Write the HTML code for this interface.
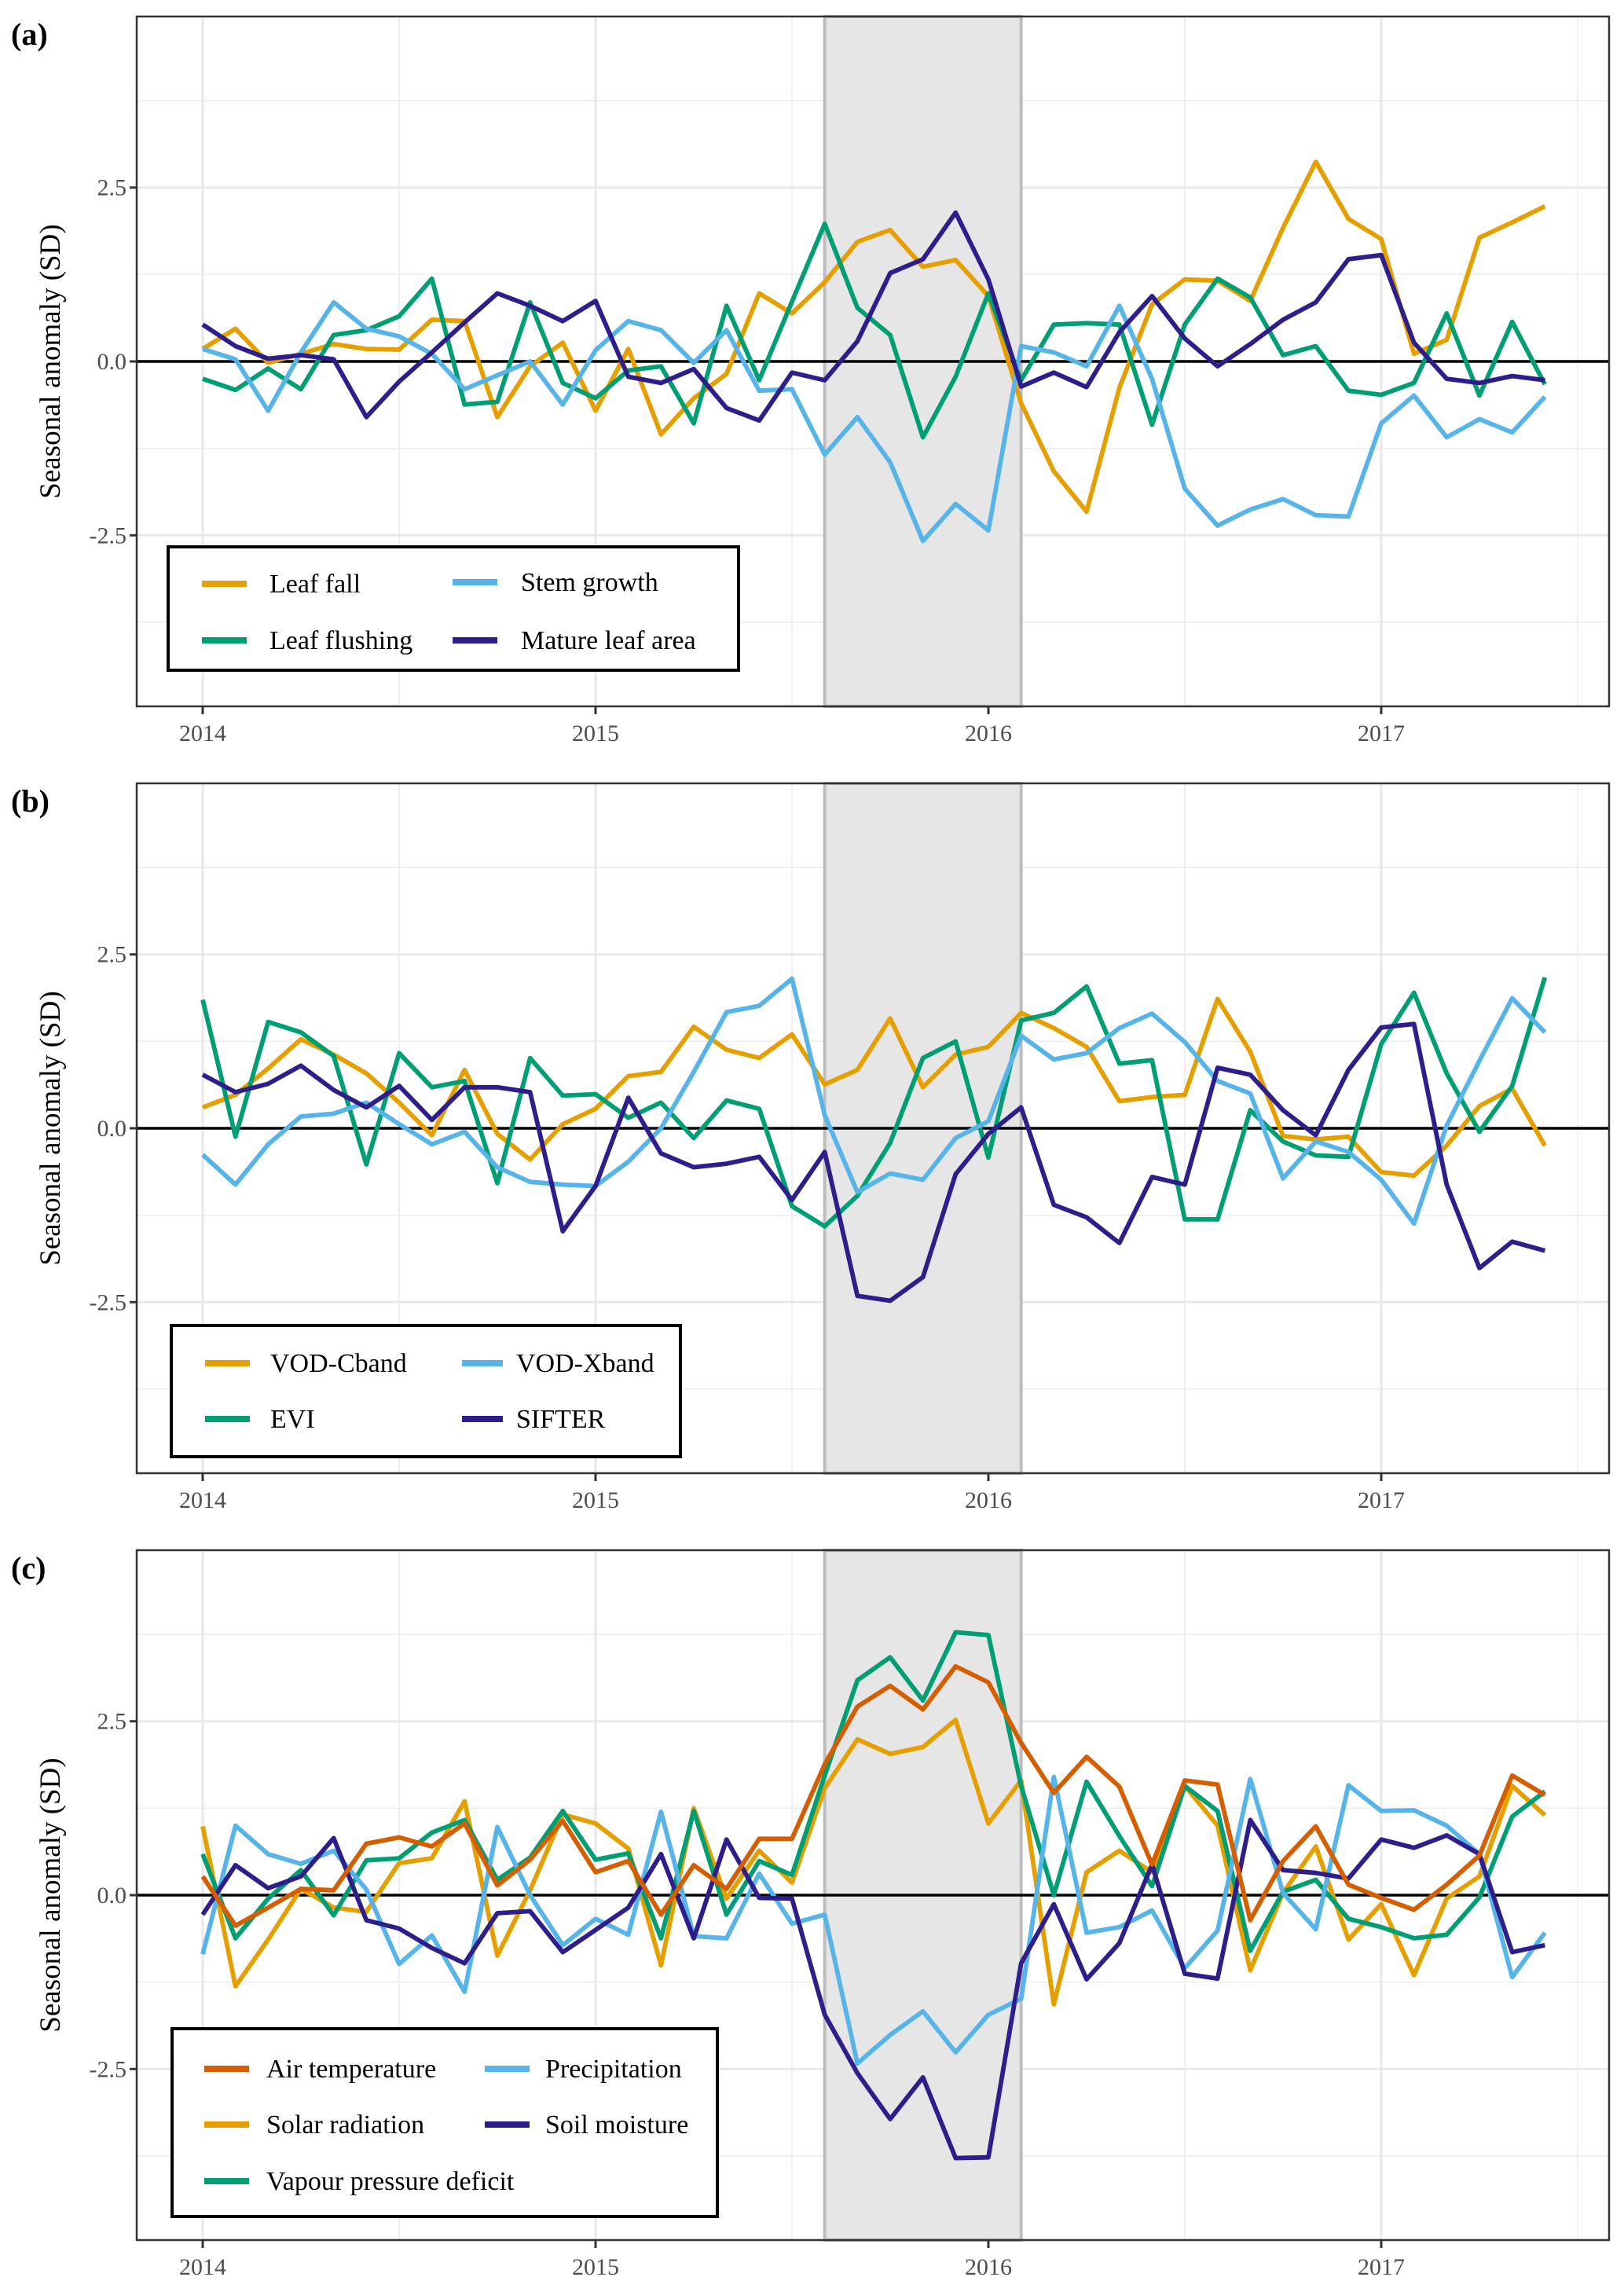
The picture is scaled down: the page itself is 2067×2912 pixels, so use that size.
<!DOCTYPE html>
<html><head><meta charset="utf-8">
<style>
html,body{margin:0;padding:0;background:#fff;}
svg{display:block;font-family:"Liberation Serif","DejaVu Serif",serif;}
</style></head>
<body>
<svg id="chart" width="2067" height="2912" viewBox="0 0 2067 2912" xmlns="http://www.w3.org/2000/svg"></svg>
<script>
// ---- data: monthly values Jan 2014 .. Jun 2017 (42 months) ----
const startYear = 2014;
const xTickLabels = ["2014","2015","2016","2017"];
const yTickLabels = ["-2.5","0.0","2.5"];
const yTickValues = [-2.5,0,2.5];

// Panel (a)
const aNames = ["Leaf fall","Stem growth","Leaf flushing","Mature leaf area"];
const leafFall = [0.18,0.47,-0.02,0.11,0.25,0.18,0.17,0.6,0.58,-0.8,-0.07,0.27,-0.71,0.18,-1.05,-0.53,-0.18,0.98,0.69,1.14,1.72,1.89,1.36,1.46,0.94,-0.6,-1.58,-2.16,-0.38,0.82,1.18,1.16,0.87,1.92,2.87,2.05,1.76,0.11,0.31,1.78,2.0,2.23];
const leafFlushing = [-0.25,-0.41,-0.1,-0.4,0.38,0.45,0.65,1.19,-0.62,-0.58,0.85,-0.31,-0.53,-0.13,-0.07,-0.89,0.8,-0.27,0.86,1.98,0.77,0.38,-1.09,-0.22,0.98,-0.27,0.53,0.55,0.53,-0.91,0.53,1.19,0.92,0.09,0.22,-0.42,-0.48,-0.31,0.69,-0.49,0.57,-0.33];
const stemGrowth = [0.18,0.03,-0.71,0.13,0.85,0.47,0.36,0.11,-0.4,-0.2,0,-0.62,0.16,0.58,0.45,-0.02,0.45,-0.42,-0.4,-1.34,-0.8,-1.45,-2.58,-2.05,-2.43,0.22,0.13,-0.07,0.8,-0.25,-1.83,-2.36,-2.13,-1.98,-2.21,-2.23,-0.89,-0.49,-1.09,-0.83,-1.02,-0.51];
const matureLeafArea = [0.53,0.22,0.04,0.09,0.03,-0.8,-0.29,0.13,0.56,0.98,0.8,0.58,0.87,-0.22,-0.31,-0.11,-0.67,-0.85,-0.16,-0.27,0.29,1.27,1.47,2.14,1.18,-0.36,-0.16,-0.37,0.42,0.94,0.33,-0.07,0.25,0.6,0.85,1.47,1.53,0.27,-0.25,-0.31,-0.21,-0.27];

// Panel (b)
const bNames = ["VOD-Cband","VOD-Xband","EVI","SIFTER"];
const vodC = [0.3,0.48,0.86,1.28,1.06,0.79,0.37,-0.1,0.84,-0.08,-0.45,0.06,0.28,0.75,0.81,1.46,1.13,1.01,1.35,0.63,0.84,1.58,0.59,1.06,1.17,1.66,1.44,1.17,0.39,0.45,0.48,1.86,1.1,-0.11,-0.16,-0.12,-0.63,-0.68,-0.25,0.32,0.57,-0.25];
const vodX = [-0.38,-0.81,-0.23,0.17,0.21,0.37,0.06,-0.23,-0.05,-0.56,-0.77,-0.81,-0.83,-0.48,0.0,0.81,1.67,1.76,2.15,0.19,-0.92,-0.65,-0.74,-0.14,0.1,1.33,0.99,1.08,1.44,1.65,1.24,0.68,0.5,-0.72,-0.19,-0.34,-0.74,-1.37,0.04,0.97,1.87,1.38];
const evi = [1.85,-0.12,1.53,1.38,1.04,-0.52,1.08,0.59,0.68,-0.79,1.01,0.47,0.49,0.15,0.37,-0.14,0.4,0.28,-1.12,-1.41,-0.97,-0.21,1.01,1.25,-0.42,1.55,1.66,2.04,0.93,0.98,-1.31,-1.31,0.26,-0.19,-0.39,-0.41,1.21,1.95,0.79,-0.05,0.61,2.17];
const sifter = [0.77,0.52,0.64,0.9,0.55,0.3,0.61,0.12,0.59,0.59,0.52,-1.48,-0.83,0.44,-0.36,-0.56,-0.51,-0.41,-1.03,-0.34,-2.41,-2.48,-2.14,-0.66,-0.08,0.3,-1.1,-1.28,-1.65,-0.7,-0.81,0.87,0.77,0.26,-0.1,0.84,1.45,1.5,-0.81,-2.01,-1.63,-1.76];

// Panel (c)
const cNames = ["Air temperature","Precipitation","Solar radiation","Soil moisture","Vapour pressure deficit"];
const airTemp = [0.27,-0.44,-0.18,0.09,0.07,0.74,0.83,0.7,1.03,0.14,0.51,1.07,0.33,0.49,-0.28,0.43,0.09,0.81,0.81,1.88,2.71,3.01,2.67,3.29,3.06,2.19,1.47,1.99,1.56,0.44,1.65,1.59,-0.36,0.49,0.99,0.15,-0.04,-0.21,0.15,0.57,1.72,1.44];
const solarRad = [0.99,-1.31,-0.64,0.09,-0.18,-0.24,0.46,0.53,1.35,-0.87,0.07,1.16,1.03,0.67,-1.01,1.25,-0.05,0.64,0.18,1.54,2.24,2.03,2.13,2.52,1.03,1.65,-1.57,0.33,0.64,0.33,1.57,1.0,-1.08,0.03,0.7,-0.64,-0.13,-1.15,-0.05,0.27,1.57,1.15];
const vpd = [0.59,-0.62,-0.05,0.36,-0.29,0.5,0.53,0.9,1.08,0.22,0.54,1.21,0.51,0.6,-0.62,1.21,-0.28,0.49,0.29,1.72,3.09,3.42,2.8,3.78,3.74,1.57,0,1.63,0.85,0.13,1.57,1.21,-0.8,0.05,0.22,-0.34,-0.46,-0.62,-0.57,-0.03,1.13,1.49];
const precip = [-0.85,1.0,0.59,0.45,0.64,0.08,-0.99,-0.58,-1.39,0.98,0,-0.72,-0.34,-0.57,1.2,-0.59,-0.62,0.31,-0.41,-0.28,-2.42,-2.01,-1.67,-2.26,-1.72,-1.49,1.7,-0.54,-0.46,-0.22,-1.05,-0.51,1.67,0.03,-0.49,1.58,1.21,1.22,1.0,0.59,-1.18,-0.54];
const soilMoisture = [-0.28,0.43,0.1,0.27,0.82,-0.36,-0.48,-0.76,-0.98,-0.26,-0.23,-0.82,-0.5,-0.18,0.59,-0.62,0.8,-0.04,-0.05,-1.72,-2.56,-3.22,-2.62,-3.78,-3.77,-0.98,-0.13,-1.21,-0.69,0.44,-1.13,-1.2,1.08,0.36,0.32,0.24,0.8,0.68,0.86,0.59,-0.82,-0.72];

// El Nino shading period (decimal years)
const shadeStart = 2015 + 7/12;
const shadeEnd = 2016 + 1/12;

// ---- layout ----
const NS = "http://www.w3.org/2000/svg";
const svg = document.getElementById("chart");
const X0 = 174, X1 = 2048, XMIN = 2013.832, XMAX = 2017.58;
const YMIN = -4.96, YMAX = 4.96, PH = 878;
function xScale(t){ return X0 + (t - XMIN) / (XMAX - XMIN) * (X1 - X0); }
function monthX(i){ return xScale(startYear + i/12); }
function mk(tag, attrs, parent){
  const e = document.createElementNS(NS, tag);
  for (const k in attrs) e.setAttribute(k, attrs[k]);
  (parent || svg).appendChild(e);
  return e;
}
const COL = {orange:"#E69F00", blue:"#56B4E9", green:"#009E73", navy:"#2E1E8C", red:"#D55E00"};

function panel(id, top, letter, series, legend){
  const yScale = v => top + (YMAX - v) / (YMAX - YMIN) * PH;
  const g = mk("g", {});
  
  
  mk("rect", {x:X0, y:top, width:X1-X0, height:PH, fill:"#fff"}, g);
  [2014.5,2015.5,2016.5,2017.5].forEach(t => mk("line",{x1:xScale(t),x2:xScale(t),y1:top,y2:top+PH,stroke:"#ececec","stroke-width":1.5},g));
  [-3.75,-1.25,1.25,3.75].forEach(v => mk("line",{x1:X0,x2:X1,y1:yScale(v),y2:yScale(v),stroke:"#ececec","stroke-width":1.5},g));
  [2014,2015,2016,2017].forEach(t => mk("line",{x1:xScale(t),x2:xScale(t),y1:top,y2:top+PH,stroke:"#e8e8e8","stroke-width":3},g));
  yTickValues.forEach(v => mk("line",{x1:X0,x2:X1,y1:yScale(v),y2:yScale(v),stroke:"#e8e8e8","stroke-width":3},g));
  const sh = mk("rect",{x:xScale(shadeStart),y:top,width:xScale(shadeEnd)-xScale(shadeStart),height:PH,fill:"#e6e6e6",stroke:"#bdbdbd","stroke-width":4},g);
  
  
  mk("line",{x1:X0,x2:X1,y1:yScale(0),y2:yScale(0),stroke:"#000","stroke-width":3.5},g);
  series.forEach(s => {
    const pts = s.data.map((v,i) => monthX(i).toFixed(1) + "," + yScale(v).toFixed(1)).join(" ");
    const pl = mk("polyline",{points:pts,fill:"none",stroke:s.color,"stroke-width":5.8,"stroke-linejoin":"round"},g);
    
    
  });
  mk("rect",{x:X0,y:top,width:X1-X0,height:PH,fill:"none",stroke:"#333","stroke-width":2.5},g);
  yTickValues.forEach((v,i) => {
    mk("line",{x1:X0-9,x2:X0,y1:yScale(v),y2:yScale(v),stroke:"#333","stroke-width":3},g);
    const t = mk("text",{x:X0-13,y:yScale(v)+10,"text-anchor":"end","font-size":30,fill:"#4d4d4d"},g);
    t.textContent = yTickLabels[i];
    
    
  });
  [2014,2015,2016,2017].forEach((yr,i) => {
    mk("line",{x1:xScale(yr),x2:xScale(yr),y1:top+PH,y2:top+PH+10,stroke:"#333","stroke-width":3},g);
    const t = mk("text",{x:xScale(yr),y:top+PH+44,"text-anchor":"middle","font-size":30,fill:"#4d4d4d"},g);
    t.textContent = xTickLabels[i];
    
    
  });
  const yt = mk("text",{x:0,y:0,transform:"translate(76," + (top+PH/2) + ") rotate(-90)","text-anchor":"middle","font-size":37,fill:"#000"},g);
  yt.textContent = "Seasonal anomaly (SD)";
  
  
  const lt = mk("text",{x:14,y:top+36,"font-size":40,"font-weight":"bold",fill:"#000"},g);
  lt.textContent = letter;
  
  
  const lg = mk("g",{},g);
  
  
  mk("rect",{x:legend.x,y:top+legend.dy,width:legend.w,height:legend.h,fill:"#fff",stroke:"#000","stroke-width":4},lg);
  legend.items.forEach(it => {
    const yy = top + it.dy;
    mk("line",{x1:it.kx,x2:it.kx+(it.kw||57),y1:yy,y2:yy,stroke:it.color,"stroke-width":8},lg);
    const t = mk("text",{x:it.tx,y:yy+11,"font-size":34,fill:"#000"},lg);
    t.textContent = it.label;
    
    
  });
}

panel("a", 21, "(a)", [
  {key:"leaf-fall", data:leafFall, color:COL.orange},
  {key:"leaf-flushing", data:leafFlushing, color:COL.green},
  {key:"stem-growth", data:stemGrowth, color:COL.blue},
  {key:"mature-leaf-area", data:matureLeafArea, color:COL.navy}
], {x:214, dy:675, w:726, h:157, items:[
  {label:aNames[0], color:COL.orange, kx:257, tx:343, dy:722},
  {label:aNames[1], color:COL.blue, kx:576, tx:663, dy:720},
  {label:aNames[2], color:COL.green, kx:257, tx:343, dy:794},
  {label:aNames[3], color:COL.navy, kx:576, tx:663, dy:794}
]});

panel("b", 997, "(b)", [
  {key:"vod-cband", data:vodC, color:COL.orange},
  {key:"evi", data:evi, color:COL.green},
  {key:"vod-xband", data:vodX, color:COL.blue},
  {key:"sifter", data:sifter, color:COL.navy}
], {x:218, dy:690, w:648, h:167, items:[
  {label:bNames[0], color:COL.orange, kx:261, tx:344, dy:738},
  {label:bNames[1], color:COL.blue, kx:588, kw:52, tx:657, dy:738},
  {label:bNames[2], color:COL.green, kx:261, tx:344, dy:809},
  {label:bNames[3], color:COL.navy, kx:588, kw:52, tx:657, dy:809}
]});

panel("c", 1973, "(c)", [
  {key:"solar-radiation", data:solarRad, color:COL.orange},
  {key:"vapour-pressure-deficit", data:vpd, color:COL.green},
  {key:"precipitation", data:precip, color:COL.blue},
  {key:"soil-moisture", data:soilMoisture, color:COL.navy},
  {key:"air-temperature", data:airTemp, color:COL.red}
], {x:219, dy:609, w:694, h:239, items:[
  {label:cNames[0], color:COL.red, kx:260, tx:339, dy:660},
  {label:cNames[1], color:COL.blue, kx:617, tx:694, dy:660},
  {label:cNames[2], color:COL.orange, kx:260, tx:339, dy:731},
  {label:cNames[3], color:COL.navy, kx:617, tx:694, dy:731},
  {label:cNames[4], color:COL.green, kx:260, tx:339, dy:803}
]});
</script>
</body></html>
